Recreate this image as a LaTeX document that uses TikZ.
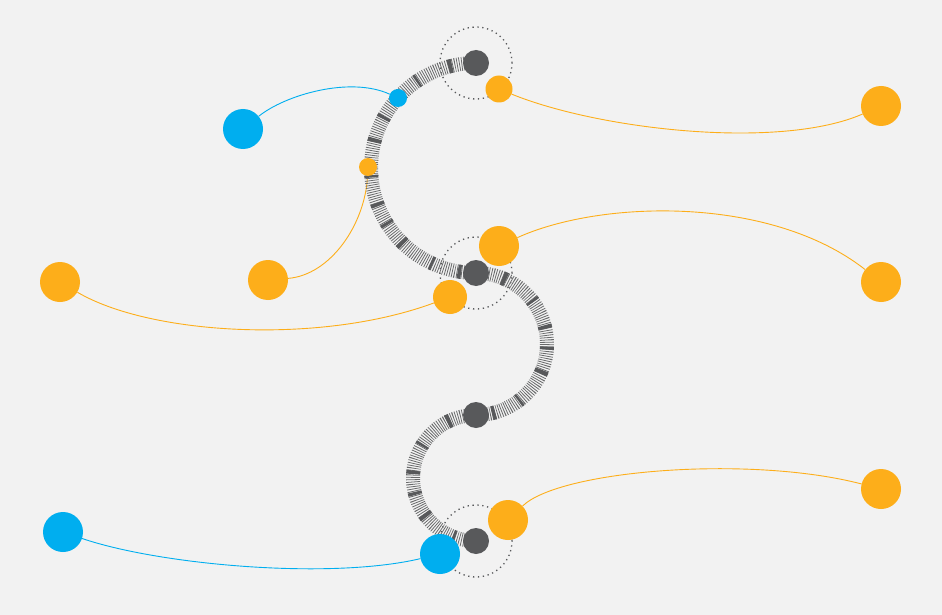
\documentclass[tikz,border=0pt]{standalone}
\usepackage{tikz}
\usetikzlibrary{positioning,calc,backgrounds}
\definecolor{bgrey}{RGB}{242, 242, 242}
\definecolor{hubgrey}{RGB}{88, 89, 91}
\definecolor{amber}{RGB}{253, 174, 26}
\definecolor{skyblue}{RGB}{0, 174, 239}

\begin{document}
\begin{tikzpicture}[x=1pt, y=1pt,
    hub/.style={circle, fill=hubgrey, inner sep=0pt, minimum size=26pt},
    amberdot/.style={circle, fill=amber, inner sep=0pt},
    bluedot/.style={circle, fill=skyblue, inner sep=0pt},
    halo/.style={draw=hubgrey, line width=1.3pt, dash pattern=on 1.3pt off 3.6pt},
    link/.style={line width=0.9pt}]
    \begin{scope}[on background layer]
    \fill[bgrey] (0, 0) rectangle (942, -615);
    \end{scope}
    \useasboundingbox (0, 0) rectangle (942, -615);

    % dotted halos
    \draw[halo] (476, -63) circle (36);
    \draw[halo] (476, -273) circle (36);
    \draw[halo] (476, -541) circle (36);

    % fibre
    \draw[hubgrey!90, line width=14pt, dash pattern=on 0.8pt off 1.5pt]
        (476, -63) arc[start angle=90, end angle=270, radius=105]
        arc[start angle=90, end angle=-90, radius=71]
        arc[start angle=90, end angle=270, radius=63];
    \draw[hubgrey, line width=14pt, dash pattern=on 3pt off 21pt on 4pt off 33pt on 2.5pt off 26pt on 3.5pt off 18pt]
        (476, -63) arc[start angle=90, end angle=270, radius=105]
        arc[start angle=90, end angle=-90, radius=71]
        arc[start angle=90, end angle=270, radius=63];

    \node[hub] (hubA) at (476, -63) {};
    \node[hub] (hubB) at (476, -273) {};
    \node[hub] (hubC) at (476, -415) {};
    \node[hub] (hubD) at (476, -541) {};

    \node[amberdot, minimum size=27pt] (ambA) at (499, -89) {};
    \node[amberdot, minimum size=40pt] (ambA2) at (881, -106) {};
    \node[amberdot, minimum size=18pt] (ambS) at (368, -167) {};
    \node[amberdot, minimum size=40pt] (ambS2) at (268, -280) {};
    \node[amberdot, minimum size=40pt] (ambL) at (60, -282) {};
    \node[amberdot, minimum size=34pt] (ambB) at (450, -297) {};
    \node[amberdot, minimum size=40pt] (ambT) at (499, -246) {};
    \node[amberdot, minimum size=40pt] (ambT2) at (881, -282) {};
    \node[amberdot, minimum size=40pt] (ambD) at (508, -520) {};
    \node[amberdot, minimum size=40pt] (ambD2) at (881, -489) {};

    \node[bluedot, minimum size=40pt] (bluL) at (243, -129) {};
    \node[bluedot, minimum size=18pt] (bluS) at (398, -98) {};
    \node[bluedot, minimum size=40pt] (bluB) at (63, -532) {};
    \node[bluedot, minimum size=40pt] (bluD) at (440, -554) {};

    % links
    \begin{scope}[on background layer]
    \draw[link, skyblue] (bluL) .. controls (285, -95) and (350, -76) .. (bluS);
    \draw[link, amber] (ambA) .. controls (600, -130) and (780, -150) .. (ambA2);
    \draw[link, amber] (ambS) .. controls (365, -225) and (330, -275) .. (ambS2);
    \draw[link, amber] (ambL) .. controls (150, -335) and (320, -345) .. (ambB);
    \draw[link, amber] (ambT) .. controls (600, -200) and (770, -195) .. (ambT2);
    \draw[link, amber] (ambD) .. controls (560, -470) and (750, -455) .. (ambD2);
    \draw[link, skyblue] (bluB) .. controls (160, -565) and (330, -580) .. (bluD);
    \end{scope}
\end{tikzpicture}
\end{document}
